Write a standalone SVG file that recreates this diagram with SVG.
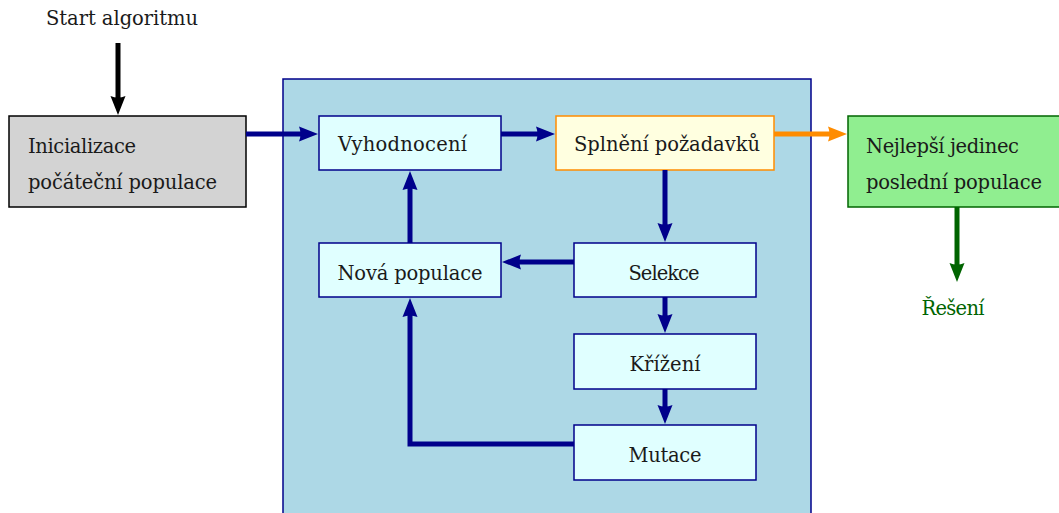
<svg xmlns="http://www.w3.org/2000/svg" width="1059" height="513" viewBox="0 0 1059 513">
<style>
text{font-family:"DejaVu Serif","Liberation Serif",serif;font-size:19.5px;fill:#1a1a1a}
.c{text-anchor:middle}
.inner{fill:#E0FFFF;stroke:#00008B;stroke-width:1.5}
.blue{stroke:#00008B;stroke-width:5;fill:none}
</style>
<defs>
<marker id="ab" markerUnits="userSpaceOnUse" markerWidth="22" markerHeight="18" refX="10" refY="7.5" orient="auto" overflow="visible"><path d="M0,0 L19,7.5 L0,15 Q3,7.5 0,0 z" fill="#00008B"/></marker>
<marker id="ak" markerUnits="userSpaceOnUse" markerWidth="22" markerHeight="18" refX="10" refY="7.5" orient="auto" overflow="visible"><path d="M0,0 L19,7.5 L0,15 Q3,7.5 0,0 z" fill="#000"/></marker>
<marker id="ao" markerUnits="userSpaceOnUse" markerWidth="22" markerHeight="18" refX="10" refY="7.5" orient="auto" overflow="visible"><path d="M0,0 L19,7.5 L0,15 Q3,7.5 0,0 z" fill="#FF8C00"/></marker>
<marker id="ag" markerUnits="userSpaceOnUse" markerWidth="22" markerHeight="18" refX="10" refY="7.5" orient="auto" overflow="visible"><path d="M0,0 L19,7.5 L0,15 Q3,7.5 0,0 z" fill="#006400"/></marker>
</defs>
<rect width="1059" height="513" fill="#fff"/>
<g id="container"><rect x="283" y="79" width="528" height="460" fill="#ADD8E6" stroke="#00008B" stroke-width="1.5"/></g>
<g id="start"><text x="122" y="25" class="c" textLength="152">Start algoritmu</text></g>
<g id="init"><rect x="9" y="116" width="237" height="91" fill="#D3D3D3" stroke="#000" stroke-width="1.5"/>
<text x="28" y="153" textLength="108">Inicializace</text><text x="28" y="189" textLength="189">počáteční populace</text></g>
<g id="vyhodnoceni"><rect class="inner" x="319" y="116" width="182" height="54"/><text x="338" y="151" textLength="129">Vyhodnocení</text></g>
<g id="splneni"><rect x="556" y="116" width="218" height="54" fill="#FFFFE0" stroke="#FF8C00" stroke-width="1.5"/><text x="667" y="151" class="c" textLength="186">Splnění požadavků</text></g>
<g id="nejlepsi"><rect x="848" y="116" width="215" height="91" fill="#90EE90" stroke="#006400" stroke-width="1.5"/>
<text x="866" y="153" textLength="153">Nejlepší jedinec</text><text x="866" y="189" textLength="176">poslední populace</text></g>
<g id="reseni"><text x="953" y="315" class="c" style="fill:#006400" textLength="63">Řešení</text></g>
<g id="nova"><rect class="inner" x="319" y="243" width="182" height="54"/><text x="410" y="280" class="c" textLength="145">Nová populace</text></g>
<g id="selekce"><rect class="inner" x="574" y="243" width="182" height="54"/><text x="664" y="280" class="c" textLength="71">Selekce</text></g>
<g id="krizeni"><rect class="inner" x="574" y="334" width="182" height="55"/><text x="665" y="371" class="c" textLength="71">Křížení</text></g>
<g id="mutace"><rect class="inner" x="574" y="425" width="182" height="55"/><text x="665" y="462" class="c" textLength="73">Mutace</text></g>
<g id="connectors">
<line x1="118" y1="43" x2="118" y2="106" stroke="#000" stroke-width="5" marker-end="url(#ak)"/>
<line class="blue" x1="246" y1="134" x2="309" y2="134" marker-end="url(#ab)"/>
<line class="blue" x1="501" y1="134" x2="546" y2="134" marker-end="url(#ab)"/>
<line x1="774" y1="134" x2="838" y2="134" stroke="#FF8C00" stroke-width="5" marker-end="url(#ao)"/>
<line x1="957" y1="207" x2="957" y2="273" stroke="#006400" stroke-width="5" marker-end="url(#ag)"/>
<line class="blue" x1="665" y1="170" x2="665" y2="233" marker-end="url(#ab)"/>
<line class="blue" x1="574" y1="262" x2="511" y2="262" marker-end="url(#ab)"/>
<line class="blue" x1="410" y1="243" x2="410" y2="180" marker-end="url(#ab)"/>
<line class="blue" x1="665" y1="297" x2="665" y2="324" marker-end="url(#ab)"/>
<line class="blue" x1="665" y1="389" x2="665" y2="415" marker-end="url(#ab)"/>
<polyline class="blue" points="574,444 410,444 410,307" marker-end="url(#ab)"/>
</g>
</svg>
